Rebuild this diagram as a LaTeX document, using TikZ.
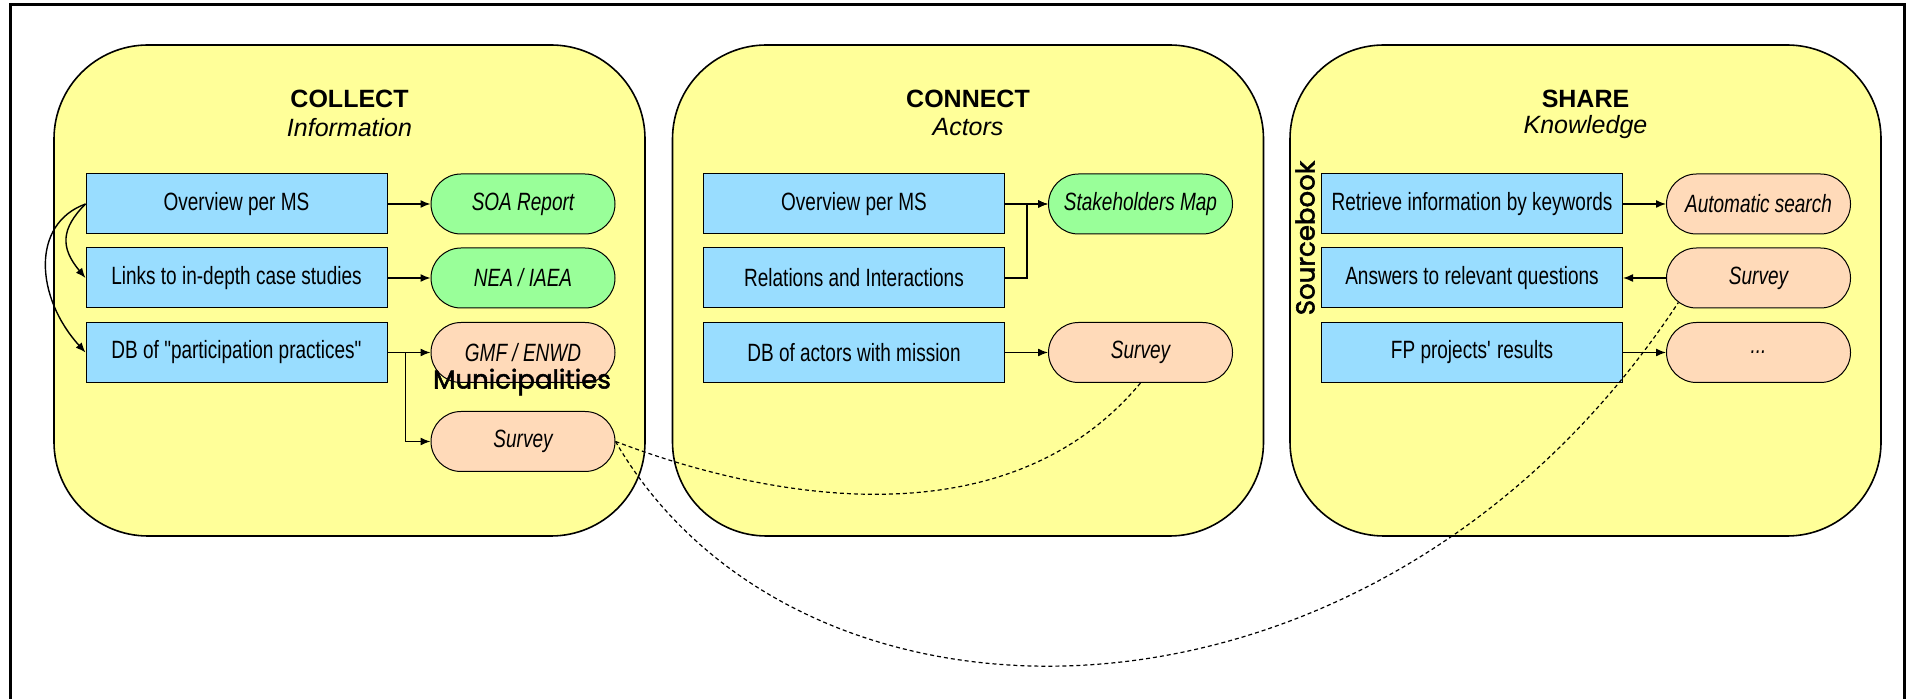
\documentclass[tikz,border=0pt]{standalone}
\usepackage{fontspec}
\setmainfont{Liberation Sans}
\newfontfamily\narrowfont{Liberation Sans}[FakeStretch=0.76]
\newfontfamily\handfont{Poppins}[FakeBold=2]
\usetikzlibrary{positioning,calc,arrows.meta,shapes.misc}

\definecolor{panelyellow}{RGB}{255,255,153}
\definecolor{boxblue}{RGB}{153,221,255}
\definecolor{pillgreen}{RGB}{153,255,153}
\definecolor{pillpeach}{RGB}{255,218,185}

\tikzset{
  panel/.style={draw, line width=0.8pt, fill=panelyellow, rounded corners=47pt,
    minimum width=295.5pt, minimum height=245.5pt},
  heading/.style={font=\bfseries\fontsize{12.5}{15}\selectfont},
  subheading/.style={font=\itshape\fontsize{12.5}{15}\selectfont},
  taskbox/.style={draw, line width=0.5pt, fill=boxblue, minimum width=150.5pt,
    minimum height=30pt, inner sep=0pt, font=\narrowfont\fontsize{12.5}{15}\selectfont},
  resultpill/.style={draw, line width=0.5pt, rounded rectangle, minimum width=92pt,
    minimum height=30pt, inner sep=0pt, font=\narrowfont\itshape\fontsize{12.5}{15}\selectfont},
  handnote/.style={font=\handfont\fontsize{13}{15}\selectfont, inner sep=0pt},
  arr/.style={-{Latex[length=5pt,width=4pt]}, line width=0.7pt},
  surveylink/.style={dash pattern=on 2pt off 1.5pt, line width=0.6pt}
}

\begin{document}
\begin{tikzpicture}[x=0.5pt,y=-0.5pt]
\useasboundingbox (0,0) rectangle (1910,699);
\draw[line width=1.5pt] (10,720) -- (10,5) -- (1904,5) -- (1904,720);

% panels and their headings
\node[panel] (collect) at (349.5,290.5) {};
\node[panel] (connect) at (968,290.5) {};
\node[panel] (share) at (1585.5,290.5) {};
\foreach \p/\head/\sub in {collect/COLLECT/Information,connect/CONNECT/Actors,share/SHARE/Knowledge}{
  \node[heading] (\p-head) at ($(\p.north)+(0,55)$) {\head};
  \node[subheading] (\p-sub) at ($(\p.north)+(0,83)$) {\sub};
}

% collect
\node[taskbox] (ov) at (236.5,204) {Overview per MS};
\node[taskbox] (links) at (236.5,278) {Links to in-depth case studies};
\node[taskbox] (db) at (236.5,352.5) {DB of "participation practices"};
\node[resultpill, fill=pillgreen, right=21.5pt of ov] (soa) {SOA Report};
\node[resultpill, fill=pillgreen, right=21.5pt of links] (nea) {NEA / IAEA};
\node[resultpill, fill=pillpeach, right=21.5pt of db] (gmf) {GMF / ENWD};
\node[resultpill, fill=pillpeach, below=14pt of gmf] (survA) {Survey};
\node[handnote] (munic) at (522,382) {Municipalities};

\draw[arr] (ov.east) -- (soa.west);
\draw[arr] (links.east) -- (nea.west);
\draw[arr] (db.east) -- (gmf.west);
\draw[arr] (db.east) -- ++(18,0) |- (survA.west);
\draw[arr] (ov.west) .. controls +(-25,25) and +(-25,-30) .. (links.west);
\draw[arr] (ov.west) .. controls +(-55,20) and +(-50,-55) .. (db.west);

% connect
\node[taskbox] (ovB) at (854,204) {Overview per MS};
\node[taskbox] (rel) at (854,278) {Relations and Interactions};
\node[taskbox] (dba) at (854,352.5) {DB of actors with mission};
\node[resultpill, fill=pillgreen, right=21.5pt of ovB] (stake) {Stakeholders Map};
\node[resultpill, fill=pillpeach, right=21.5pt of dba] (survB) {Survey};

\draw[arr] (ovB.east) -- (stake.west);
\draw[arr] (rel.east) -- ++(22,0) |- (stake.west);
\draw[arr] (dba.east) -- (survB.west);

% share
\node[taskbox] (retr) at (1472,204) {Retrieve information by keywords};
\node[taskbox] (answ) at (1472,278) {Answers to relevant questions};
\node[taskbox] (fp) at (1472,352.5) {FP projects\textquotesingle{} results};
\node[resultpill, fill=pillpeach, right=21.5pt of retr] (auto) {Automatic search};
\node[resultpill, fill=pillpeach, right=21.5pt of answ] (survC) {Survey};
\node[resultpill, fill=pillpeach, right=21.5pt of fp] (more) {...};
\node[handnote, rotate=90] (srcbook) at (1305,238) {Sourcebook};

\draw[arr] (retr.east) -- (auto.west);
\draw[arr] (survC.west) -- (answ.east);
\draw[arr] (fp.east) -- (more.west);

% survey links between panels
\draw[surveylink] (survA.east) .. controls +(41,15) and +(-166,199) .. (survB.south);
\draw[surveylink] (survA.east) .. controls +(186,321) and +(-301,457) .. (survC.197);

\end{tikzpicture}
\end{document}
